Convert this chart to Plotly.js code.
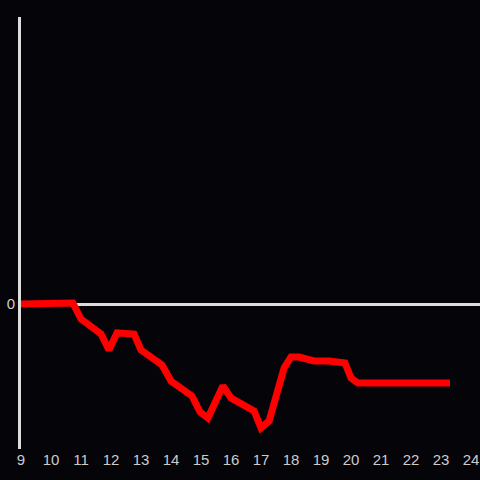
<!DOCTYPE html>
<html><head><meta charset="utf-8">
<script src="https://cdn.plot.ly/plotly-3.0.1.min.js"></script>
<style>html,body{margin:0;padding:0;background:#050408;}#c{width:480px;height:480px;}</style>
</head><body><div id="c"></div>
<script>
const hours = [9.0, 10.0, 10.73, 11.0, 11.67, 11.93, 12.2, 12.77, 13.0, 13.7, 14.0, 14.7, 14.97, 15.23, 15.73, 16.0, 16.27, 16.77, 17.0, 17.27, 17.77, 18.0, 18.27, 18.77, 19.27, 19.8, 20.0, 20.23, 23.3];
const values = [0.0, 0.0, 0.1, -1.5, -3.0, -4.6, -2.9, -3.0, -4.6, -6.1, -7.7, -9.2, -10.8, -11.4, -8.2, -9.4, -9.9, -10.7, -12.4, -11.7, -6.4, -5.3, -5.3, -5.7, -5.7, -5.9, -7.4, -7.9, -7.9];
const xTicks = [9,10,11,12,13,14,15,16,17,18,19,20,21,22,23,24];
const yTicks = [0];

Plotly.newPlot('c', [{
  x: hours, y: values, type: 'scatter', mode: 'lines',
  line: {color: '#ff0000', width: 7}, hoverinfo: 'none'
}], {
  width: 480, height: 480,
  paper_bgcolor: '#050408', plot_bgcolor: '#050408',
  margin: {l: 21, r: 0, t: 17, b: 31},
  showlegend: false,
  xaxis: {range: [9, 24.3], tickvals: xTicks, ticktext: xTicks.map(String),
    showgrid: false, zeroline: false, showline: false, ticks: '',
    tickfont: {family: 'Liberation Sans, Arial, sans-serif', size: 15, color: '#cccccc'}},
  yaxis: {range: [-14.5, 28.7], tickvals: yTicks, ticktext: ['0'],
    showgrid: false, zeroline: true, zerolinecolor: '#dddddd', zerolinewidth: 3,
    showline: true, linecolor: '#dddddd', linewidth: 3, ticks: '',
    tickfont: {family: 'Liberation Sans, Arial, sans-serif', size: 15, color: '#cccccc'}}
}, {staticPlot: true});
</script></body></html>
